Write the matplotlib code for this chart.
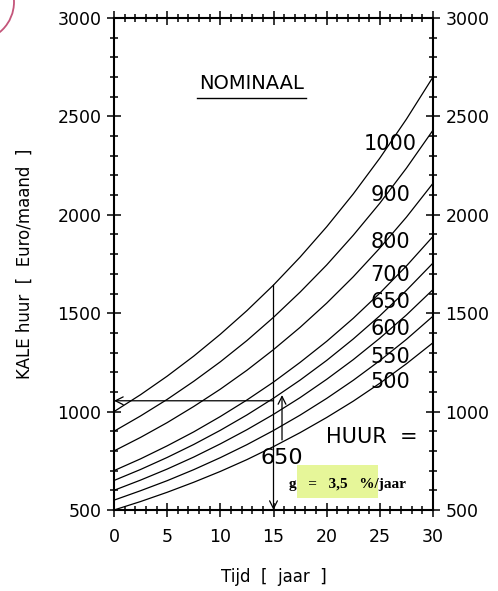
import matplotlib
matplotlib.use("Agg")
import matplotlib.pyplot as plt
from matplotlib.patches import Ellipse, Rectangle

# ---- data ----
years = [0, 2.5, 5, 7.5, 10, 12.5, 15, 17.5, 20, 22.5, 25, 27.5, 30]
rent_labels = ["1000", "900", "800", "700", "650", "600", "550", "500"]
rent_1000 = [1000, 1086, 1180, 1282, 1393, 1513, 1643, 1785, 1939, 2106, 2288, 2486, 2700]
rent_900 = [900, 978, 1062, 1154, 1253, 1361, 1479, 1607, 1745, 1896, 2059, 2237, 2430]
rent_800 = [800, 869, 944, 1026, 1114, 1210, 1315, 1428, 1551, 1685, 1831, 1988, 2160]
rent_700 = [700, 760, 826, 897, 975, 1059, 1150, 1250, 1357, 1474, 1602, 1740, 1890]
rent_650 = [650, 706, 767, 833, 905, 983, 1068, 1160, 1260, 1369, 1487, 1616, 1755]
rent_600 = [600, 652, 708, 769, 836, 908, 986, 1071, 1164, 1264, 1373, 1491, 1620]
rent_550 = [550, 598, 649, 705, 766, 832, 904, 982, 1067, 1159, 1259, 1367, 1485]
rent_500 = [500, 543, 590, 641, 696, 756, 822, 893, 970, 1053, 1144, 1243, 1350]
series = [rent_1000, rent_900, rent_800, rent_700, rent_650, rent_600, rent_550, rent_500]
label_y = [2360, 2101, 1862, 1694, 1557, 1420, 1277, 1150]
label_x = 26.0

example_year = 15
example_rent_label = "650"
example_value = 1055
x_ticks = [0, 5, 10, 15, 20, 25, 30]
y_ticks = [500, 1000, 1500, 2000, 2500, 3000]

# ---- figure ----
W, H = 498, 591
fig = plt.figure(figsize=(W / 100, H / 100), dpi=100)
ax = fig.add_axes([114 / W, 1 - 510 / H, 319 / W, 492 / H])
font = "DejaVu Sans"

for ys in series:
    ax.plot(years, ys, color="black", lw=0.9, solid_capstyle="butt")

for lab, yv in zip(rent_labels, label_y):
    ax.text(label_x, yv, lab, ha="center", va="center", fontsize=15,
            family=font, color="black")

ax.set_xlim(0, 30)
ax.set_ylim(500, 3000)
ax.set_xticks(x_ticks)
ax.set_yticks(y_ticks)
ax.set_xticks(range(0, 31), minor=True)
ax.set_yticks(range(500, 3001, 100), minor=True)
ax.tick_params(which="both", direction="inout", top=True, right=True,
               labelright=True, labeltop=False, width=1.1, colors="black")
ax.tick_params(which="major", length=10, labelsize=12.5, pad=4)
ax.tick_params(axis="x", which="major", pad=8)
ax.tick_params(which="minor", length=6)
for lbl in ax.get_xticklabels() + ax.get_yticklabels():
    lbl.set_family(font)
for s in ax.spines.values():
    s.set_linewidth(1.5)

ax.set_xlabel("Tijd  [  jaar  ]", fontsize=12, family=font, labelpad=16)
ax.set_ylabel("KALE huur  [  Euro/maand  ]", fontsize=12, family=font, labelpad=17)

# title with underline
ax.text(12.9, 2665, "NOMINAAL", ha="center", va="center", fontsize=14, family=font)
ax.plot([7.8, 18.1], [2593, 2593], color="black", lw=1.0)

# example arrows
top_val = rent_1000[years.index(example_year)]
ax.annotate("", xy=(example_year, 500), xytext=(example_year, top_val),
            arrowprops=dict(arrowstyle="->", color="black", lw=0.9,
                            mutation_scale=14, shrinkA=0, shrinkB=0))
ax.annotate("", xy=(0, example_value), xytext=(example_year, example_value),
            arrowprops=dict(arrowstyle="->", color="black", lw=0.9,
                            mutation_scale=14, shrinkA=0, shrinkB=0))
ax.annotate("", xy=(15.8, 1084), xytext=(15.8, 856),
            arrowprops=dict(arrowstyle="->", color="black", lw=0.9,
                            mutation_scale=14, shrinkA=0, shrinkB=0))
ax.text(15.8, 764, example_rent_label, ha="center", va="center", fontsize=16, family=font)

ax.text(24.2, 871, "HUUR  =", ha="center", va="center", fontsize=15, family=font)

# highlighter + growth text
ax.add_patch(Rectangle((17.2, 561), 7.6, 168, facecolor="#e4f58e", edgecolor="none",
                       alpha=0.9, zorder=1))
ax.text(22.0, 632, "g   =   3,5   %/jaar", ha="center", va="center", fontsize=11,
        family="Liberation Serif", weight="bold", zorder=3)

# pink circle fragment in the corner
fig.add_artist(Ellipse((-25 / W, 1 - 2 / H), 78 / W, 78 / H, fill=False,
                       edgecolor="#c4557a", lw=1.3, transform=fig.transFigure,
                       clip_on=False))

fig.savefig("out.png", dpi=100)
